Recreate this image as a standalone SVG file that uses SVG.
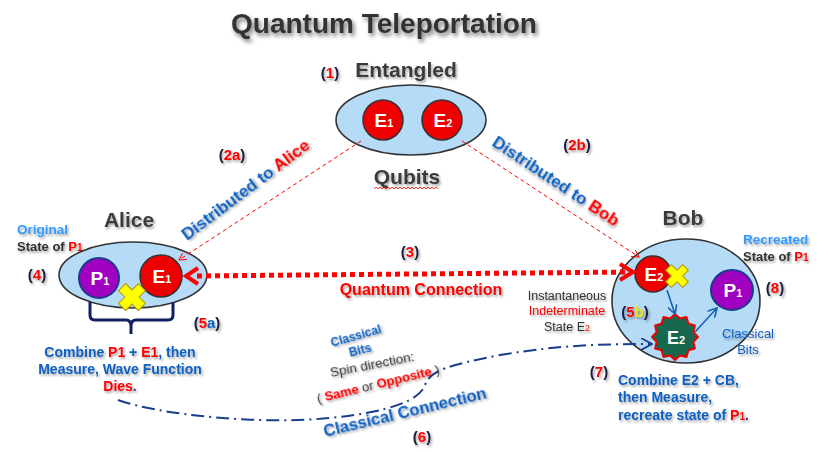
<svg xmlns="http://www.w3.org/2000/svg" width="829" height="452" viewBox="0 0 829 452">
<defs>
<style>
text{font-family:"Liberation Sans",Arial,sans-serif;font-weight:bold}
.sh{filter:url(#shadow)}
.big{font-size:21px;fill:#3a3a3a}
.num{font-size:15px;fill:#1a1a40}
.r{fill:#ff0000}
.b{fill:#1060c0}
.lb{fill:#3399ff}
.dk{fill:#333333}
.inner{fill:#ffffff;font-size:19px}
.oval{fill:#b5dbf7;stroke:#333;stroke-width:1.6}
.red{fill:#ee0000;stroke:#333;stroke-width:1.5}
.pur{fill:#a000c0;stroke:#1a3a8a;stroke-width:2}
.xm{fill:#ffff00;stroke:#b09800;stroke-width:1}
.blu{fill:none;stroke:#1a5fb4;stroke-width:1.6}
</style>
<filter id="shadow" x="-10%" y="-30%" width="130%" height="170%">
<feDropShadow dx="1.5" dy="2" stdDeviation="1.2" flood-color="#000" flood-opacity="0.35"/>
</filter>
<filter id="tshadow" x="-10%" y="-30%" width="130%" height="170%">
<feDropShadow dx="2" dy="3" stdDeviation="2" flood-color="#000" flood-opacity="0.55"/>
</filter>
<marker id="arrSmall" viewBox="0 0 8 8" refX="7" refY="4" markerWidth="8" markerHeight="8" orient="auto" markerUnits="userSpaceOnUse">
<path d="M0,0 L7,4 L0,8" fill="none" stroke="#ff0000" stroke-width="1"/>
</marker>
<marker id="arrBlue" viewBox="0 0 10 10" refX="9" refY="5" markerWidth="10" markerHeight="10" orient="auto" markerUnits="userSpaceOnUse">
<path d="M0,0 L9,5 L0,10" fill="none" stroke="#1a5fb4" stroke-width="1.6"/>
</marker>
<marker id="arrNavy" viewBox="0 0 12 12" refX="11" refY="6" markerWidth="12" markerHeight="12" orient="auto" markerUnits="userSpaceOnUse">
<path d="M0,0 L11,6 L0,12" fill="none" stroke="#1a3c8c" stroke-width="1.8"/>
</marker>
</defs>
<rect width="829" height="452" fill="#ffffff"/>

<text x="384" y="33" text-anchor="middle" style="font-size:28px;fill:#333" filter="url(#tshadow)">Quantum Teleportation</text>

<g id="node-entangled">
<text x="330" y="78" text-anchor="middle" class="num sh">(<tspan class="r">1</tspan>)</text>
<text x="406" y="77" text-anchor="middle" class="big sh">Entangled</text>
<ellipse cx="411" cy="120" rx="75" ry="35" class="oval"/>
<circle cx="383" cy="120" r="20" class="red"/>
<text x="384" y="127" text-anchor="middle" class="inner">E<tspan style="font-size:11px">1</tspan></text>
<circle cx="442" cy="120" r="20" class="red"/>
<text x="443" y="127" text-anchor="middle" class="inner">E<tspan style="font-size:11px">2</tspan></text>
<text x="407" y="184" text-anchor="middle" class="big sh">Qubits</text>
<path d="M374,189 l2,-2 l2,2 l2,-2 l2,2 l2,-2 l2,2 l2,-2 l2,2 l2,-2 l2,2 l2,-2 l2,2 l2,-2 l2,2 l2,-2 l2,2 l2,-2 l2,2 l2,-2 l2,2 l2,-2 l2,2 l2,-2 l2,2 l2,-2 l2,2 l2,-2 l2,2 l2,-2 l2,2 l2,-2 l2,2" fill="none" stroke="#ff0000" stroke-width="0.8"/>
</g>

<g id="node-alice">
<text x="129" y="227" text-anchor="middle" class="big sh">Alice</text>
<text x="17" y="234" style="font-size:13.5px" class="lb sh">Original</text>
<text x="17" y="251" style="font-size:13px" class="dk sh">State of <tspan class="r">P</tspan><tspan class="r" style="font-size:10px">1</tspan></text>
<text x="37" y="280" text-anchor="middle" class="num sh">(<tspan class="r">4</tspan>)</text>
<ellipse cx="133" cy="275" rx="74" ry="33" class="oval"/>
<circle cx="99" cy="278" r="20" class="pur"/>
<text x="100" y="285" text-anchor="middle" class="inner">P<tspan style="font-size:11px">1</tspan></text>
<circle cx="161" cy="276" r="21" class="red"/>
<text x="162" y="283" text-anchor="middle" class="inner">E<tspan style="font-size:11px">1</tspan></text>
<path transform="translate(132,297) rotate(45)" d="M-5,-14 H5 V-5 H14 V5 H5 V14 H-5 V5 H-14 V-5 H-5 Z" class="xm"/>
<path d="M90,302 V315 Q90,320 95,320 H126 Q131,320 131,326 V334 M131,326 Q131,320 136,320 H168 Q173,320 173,315 V302" fill="none" stroke="#102060" stroke-width="3"/>
<text x="207" y="328" text-anchor="middle" class="num sh">(<tspan class="r">5</tspan><tspan class="b">a</tspan>)</text>
<g style="font-size:14px" class="sh">
<text x="120" y="357" text-anchor="middle" class="b">Combine <tspan class="r">P1</tspan> + <tspan class="r">E1</tspan>, then</text>
<text x="120" y="374" text-anchor="middle" class="b">Measure, Wave Function</text>
<text x="120" y="391" text-anchor="middle" class="r">Dies<tspan fill="#5020a0">.</tspan></text>
</g>
</g>

<g id="node-bob">
<text x="683" y="225" text-anchor="middle" class="big sh">Bob</text>
<text x="743" y="244" style="font-size:13.5px" class="lb sh">Recreated</text>
<text x="743" y="261" style="font-size:13px" class="dk sh">State of <tspan class="r">P</tspan><tspan class="r" style="font-size:10px">1</tspan></text>
<text x="775" y="293" text-anchor="middle" class="num sh">(<tspan class="r">8</tspan>)</text>
<ellipse cx="686" cy="301" rx="74" ry="62" class="oval"/>
<circle cx="653" cy="274" r="18" class="red"/>
<text x="654" y="281" text-anchor="middle" class="inner">E<tspan style="font-size:11px">2</tspan></text>
<path transform="translate(677,276) rotate(45)" d="M-4,-12 H4 V-4 H12 V4 H4 V12 H-4 V4 H-12 V-4 H-4 Z" class="xm"/>
<ellipse cx="732" cy="290" rx="21" ry="20" class="pur"/>
<text x="733" y="297" text-anchor="middle" class="inner">P<tspan style="font-size:11px">1</tspan></text>
<polygon points="675,314 679.9,318.6 686.5,317.1 688.4,323.6 694.9,325.5 693.4,332.1 698,337 693.4,341.9 694.9,348.5 688.4,350.4 686.5,356.9 679.9,355.4 675,360 670.1,355.4 663.5,356.9 661.6,350.4 655.1,348.5 656.6,341.9 652,337 656.6,332.1 655.1,325.5 661.6,323.6 663.5,317.1 670.1,318.6" fill="#17674f" stroke="#ee0000" stroke-width="2" stroke-linejoin="round"/>
<text x="676" y="344" text-anchor="middle" class="inner" style="font-size:18px">E<tspan style="font-size:11px">2</tspan></text>
<text x="635" y="317" text-anchor="middle" class="num sh">(<tspan class="r">5</tspan><tspan fill="#f0e000">b</tspan>)</text>
<text x="748" y="338" text-anchor="middle" style="font-size:13px;font-weight:normal" class="b sh">Classical</text>
<text x="748" y="354" text-anchor="middle" style="font-size:13px;font-weight:normal" class="b sh">Bits</text>
<text x="567" y="300" text-anchor="middle" style="font-size:12.5px;font-weight:normal" class="dk sh">Instantaneous</text>
<text x="567" y="315" text-anchor="middle" style="font-size:12.5px;font-weight:normal" class="r sh">Indeterminate</text>
<text x="567" y="331" text-anchor="middle" style="font-size:12.5px;font-weight:normal" class="dk sh">State E<tspan class="r" style="font-size:9px">2</tspan></text>
<text x="599" y="377" text-anchor="middle" class="num sh">(<tspan class="r">7</tspan>)</text>
<g style="font-size:14px" class="sh">
<text x="618" y="385" class="b">Combine E2 + CB,</text>
<text x="618" y="402" class="b">then Measure,</text>
<text x="618" y="420" class="b">recreate state of <tspan class="r">P</tspan><tspan class="r" style="font-size:10px">1</tspan><tspan fill="#5020a0">.</tspan></text>
</g>
</g>

<g id="connectors">
<line x1="361" y1="141" x2="179" y2="260" stroke="#ff0000" stroke-width="1" stroke-dasharray="4 3" marker-end="url(#arrSmall)"/>
<line x1="462" y1="141" x2="639" y2="257" stroke="#ff0000" stroke-width="1" stroke-dasharray="4 3" marker-end="url(#arrSmall)"/>
<line x1="197" y1="276" x2="630" y2="272" stroke="#ff0000" stroke-width="5" stroke-dasharray="5 4"/>
<polyline points="198,268 186,276 198,284" fill="none" stroke="#ff0000" stroke-width="4"/>
<polyline points="620,264 633,272 620,280" fill="none" stroke="#ff0000" stroke-width="4"/>
<path d="M118,400 C160,415 260,425 330,418 C390,412 420,400 425,385 C430,370 450,365 500,355 C560,345 600,344 652,344" fill="none" stroke="#1a3c8c" stroke-width="2" stroke-dasharray="13 5 2 5" marker-end="url(#arrNavy)"/>
<line x1="667" y1="290" x2="675" y2="314" class="blu" marker-end="url(#arrBlue)"/>
<line x1="695" y1="332" x2="717" y2="308" class="blu" marker-end="url(#arrBlue)"/>
</g>

<g id="labels">
<text x="232" y="160" text-anchor="middle" class="num sh">(<tspan class="r">2a</tspan>)</text>
<text x="577" y="150" text-anchor="middle" class="num sh">(<tspan class="r">2b</tspan>)</text>
<text transform="translate(187,241) rotate(-37)" style="font-size:17px" class="b sh">Distributed to <tspan class="r">Alice</tspan></text>
<text transform="translate(491,145) rotate(33.5)" style="font-size:17px" class="b sh">Distributed to <tspan class="r">Bob</tspan></text>
<text x="410" y="257" text-anchor="middle" class="num sh">(<tspan class="r">3</tspan>)</text>
<text x="421" y="295" text-anchor="middle" style="font-size:16px" class="r sh">Quantum Connection</text>
<text transform="translate(332,347) rotate(-16)" style="font-size:12px" class="b sh">Classical</text>
<text transform="translate(361,354) rotate(-14)" text-anchor="middle" style="font-size:12px" class="b sh">Bits</text>
<text transform="translate(331,377) rotate(-11)" style="font-size:13.5px;font-weight:normal" class="dk sh">Spin direction:</text>
<text transform="translate(318,403) rotate(-13.6)" style="font-size:13px;font-weight:normal" class="dk sh">( <tspan class="r" style="font-weight:bold">Same</tspan> or <tspan class="r" style="font-weight:bold">Opposite</tspan> )</text>
<text transform="translate(325,437) rotate(-13.5)" style="font-size:16.5px" class="b sh">Classical Connection</text>
<text x="422" y="442" text-anchor="middle" class="num sh">(<tspan class="r">6</tspan>)</text>
</g>
</svg>
